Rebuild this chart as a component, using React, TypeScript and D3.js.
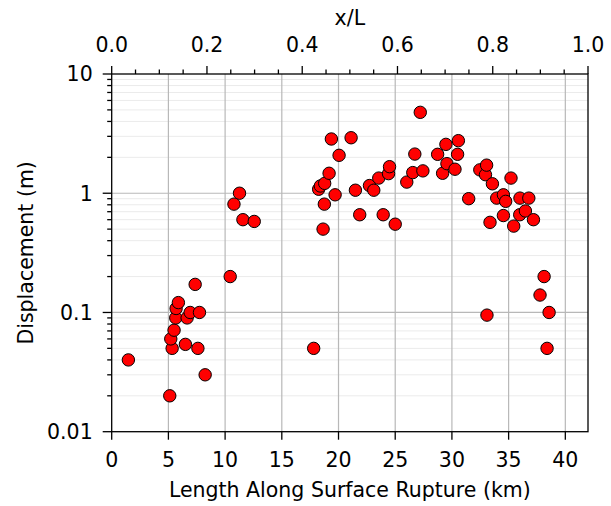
import React, { useEffect, useRef } from 'react';
import * as d3 from 'd3';

// distance along rupture (km) and displacement (m)
const distanceKm = [
  1.47, 5.12, 5.33, 5.21, 5.5, 5.65, 5.68, 5.88, 6.5, 6.65, 6.92, 7.74, 7.36, 7.6, 8.24,
  10.45, 11.27, 10.78, 11.57, 12.57, 17.81, 18.25, 18.4, 18.78, 18.75, 18.64, 19.17, 19.37,
  19.7, 20.05, 21.11, 21.49, 21.87, 22.73, 23.11, 23.55, 23.94, 24.41, 24.5, 25.0, 26.02,
  26.55, 26.73, 27.21, 27.44, 28.74, 29.18, 29.47, 29.56, 30.27, 30.5, 30.57, 31.48, 32.46,
  32.96, 33.06, 33.57, 33.36, 33.09, 33.95, 34.54, 34.74, 34.54, 35.21, 35.45, 36.0, 36.78,
  35.98, 36.48, 37.19, 38.13, 37.77, 38.57, 38.39,
];
const displacementM = [
  0.04, 0.02, 0.05, 0.06, 0.071, 0.09, 0.108, 0.121, 0.054, 0.09, 0.1, 0.1, 0.172, 0.05, 0.03,
  0.2, 1.0, 0.81, 0.6, 0.58, 0.05, 1.08, 1.15, 1.21, 0.81, 0.5, 1.47, 2.85,
  0.97, 2.08, 2.92, 1.06, 0.66, 1.16, 1.06, 1.34, 0.66, 1.46, 1.67, 0.55, 1.24,
  1.49, 2.13, 4.77, 1.54, 2.12, 1.47, 2.57, 1.77, 1.59, 2.12, 2.76, 0.9, 1.57,
  1.43, 1.72, 1.2, 0.57, 0.095, 0.91, 0.97, 0.855, 0.65, 1.34, 0.53, 0.91, 0.91,
  0.66, 0.71, 0.6, 0.2, 0.14, 0.1, 0.05,
];

const ruptureLength = 42;
const kmTicks = [0, 5, 10, 15, 20, 25, 30, 35, 40];
const xlTicks = [0, 0.2, 0.4, 0.6, 0.8, 1.0];
const xlMinor = d3.range(0, 1.0001, 0.05);
const yTicks = [0.01, 0.1, 1, 10];
const yTickLabels = ['0.01', '0.1', '1', '10'];

const App = () => {
  const ref = useRef(null);

  useEffect(() => {
    drawChart();
  }, []);

  const drawChart = () => {
    const width = 611, height = 506;
    const left = 111.7, right = 588, top = 74, bottom = 431.7;
    const font = 'DejaVu Sans';
    const fs = 20.5;

    const svg = d3.select(ref.current)
      .attr('width', width)
      .attr('height', height);
    svg.selectAll('*').remove();

    svg.append('rect').attr('width', width).attr('height', height).attr('fill', 'white');

    const x = d3.scaleLinear().domain([0, ruptureLength]).range([left, right]);
    const xl = d3.scaleLinear().domain([0, 1]).range([left, right]);
    const y = d3.scaleLog().domain([0.01, 10]).range([bottom, top]);

    // minor horizontal grid
    const minorY = [];
    [0.01, 0.1, 1].forEach(d => { for (let k = 2; k <= 9; k++) minorY.push(d * k); });
    svg.append('g').selectAll('line').data(minorY).enter().append('line')
      .attr('x1', left).attr('x2', right)
      .attr('y1', d => y(d)).attr('y2', d => y(d))
      .attr('stroke', '#ebebeb').attr('stroke-width', 1);

    // major grid
    svg.append('g').selectAll('line').data([0.1, 1]).enter().append('line')
      .attr('x1', left).attr('x2', right)
      .attr('y1', d => y(d)).attr('y2', d => y(d))
      .attr('stroke', '#b8b8b8').attr('stroke-width', 1.2);
    svg.append('g').selectAll('line').data(kmTicks.slice(1)).enter().append('line')
      .attr('x1', d => x(d)).attr('x2', d => x(d))
      .attr('y1', top).attr('y2', bottom)
      .attr('stroke', '#b8b8b8').attr('stroke-width', 1.2);

    // points
    svg.append('g').selectAll('circle').data(distanceKm).enter().append('circle')
      .attr('cx', d => x(d))
      .attr('cy', (d, i) => y(displacementM[i]))
      .attr('r', 6.2)
      .attr('fill', '#ff0000')
      .attr('stroke', 'black')
      .attr('stroke-width', 1);

    // spines
    svg.append('rect')
      .attr('x', left).attr('y', top)
      .attr('width', right - left).attr('height', bottom - top)
      .attr('fill', 'none').attr('stroke', 'black').attr('stroke-width', 1.3);

    const axisG = svg.append('g').attr('stroke', 'black').attr('stroke-width', 1.3);

    // bottom ticks
    kmTicks.forEach(t => {
      axisG.append('line').attr('x1', x(t)).attr('x2', x(t)).attr('y1', bottom).attr('y2', bottom + 8);
    });
    svg.append('g').selectAll('text').data(kmTicks).enter().append('text')
      .attr('x', d => x(d)).attr('y', bottom + 35)
      .attr('text-anchor', 'middle')
      .style('font-family', font).style('font-size', fs + 'px')
      .text(d => d);

    // top ticks (x/L)
    xlMinor.forEach(t => {
      const major = xlTicks.some(m => Math.abs(m - t) < 1e-6);
      axisG.append('line').attr('x1', xl(t)).attr('x2', xl(t))
        .attr('y1', top).attr('y2', top - (major ? 8 : 4.5));
    });
    svg.append('g').selectAll('text').data(xlTicks).enter().append('text')
      .attr('x', d => xl(d)).attr('y', top - 22)
      .attr('text-anchor', 'middle')
      .style('font-family', font).style('font-size', fs + 'px')
      .text(d => d.toFixed(1));

    // left ticks
    yTicks.forEach(t => {
      axisG.append('line').attr('x1', left).attr('x2', left - 9).attr('y1', y(t)).attr('y2', y(t));
    });
    minorY.forEach(t => {
      axisG.append('line').attr('x1', left).attr('x2', left - 4.5).attr('y1', y(t)).attr('y2', y(t));
    });
    svg.append('g').selectAll('text').data(yTicks).enter().append('text')
      .attr('x', left - 19).attr('y', d => y(d))
      .attr('dy', '0.36em')
      .attr('text-anchor', 'end')
      .style('font-family', font).style('font-size', fs + 'px')
      .text((d, i) => yTickLabels[i]);

    // axis titles
    svg.append('text')
      .attr('x', (left + right) / 2).attr('y', 497)
      .attr('text-anchor', 'middle')
      .style('font-family', font).style('font-size', fs + 'px')
      .text('Length Along Surface Rupture (km)');
    svg.append('text')
      .attr('x', (left + right) / 2).attr('y', 25)
      .attr('text-anchor', 'middle')
      .style('font-family', font).style('font-size', fs + 'px')
      .text('x/L');
    svg.append('text')
      .attr('transform', 'translate(33,' + (top + bottom) / 2 + ') rotate(-90)')
      .attr('text-anchor', 'middle')
      .style('font-family', font).style('font-size', fs + 'px')
      .text('Displacement (m)');
  };

  return <svg ref={ref} style={{ position: 'absolute', left: 0, top: 0 }}></svg>;
};

export default App;
